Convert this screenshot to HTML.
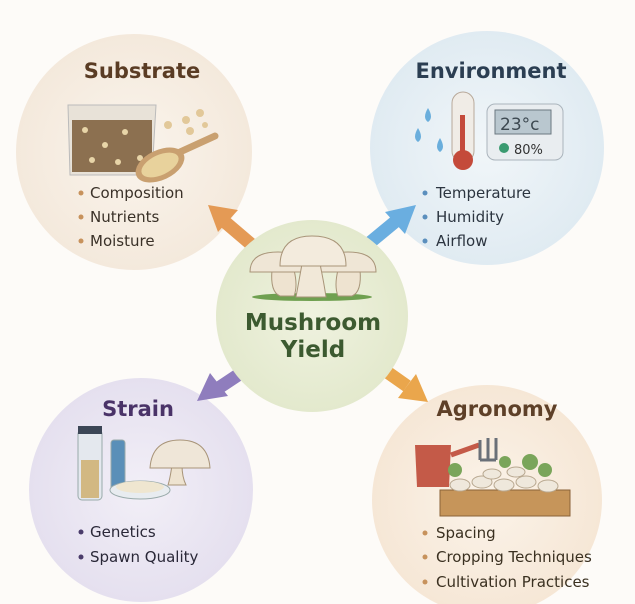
<!DOCTYPE html>
<html><head><meta charset="utf-8"><style>
html,body{margin:0;padding:0;background:#fdfbf8;}
svg{display:block;}
text{font-family:"DejaVu Sans","Liberation Sans",sans-serif;}
</style></head><body>
<svg width="635" height="604" viewBox="0 0 635 604" xmlns="http://www.w3.org/2000/svg">
<defs>
<radialGradient id="gs" cx="50%" cy="50%" r="50%"><stop offset="0" stop-color="#faf4ec"/><stop offset="1" stop-color="#f4e9dc"/></radialGradient>
<radialGradient id="ge" cx="50%" cy="50%" r="50%"><stop offset="0" stop-color="#f1f6f9"/><stop offset="1" stop-color="#e0ebf2"/></radialGradient>
<radialGradient id="gc" cx="50%" cy="50%" r="50%"><stop offset="0" stop-color="#eff2df"/><stop offset="1" stop-color="#e3e9cd"/></radialGradient>
<radialGradient id="gst" cx="50%" cy="50%" r="50%"><stop offset="0" stop-color="#f2eff7"/><stop offset="1" stop-color="#e5e0ef"/></radialGradient>
<radialGradient id="ga" cx="50%" cy="50%" r="50%"><stop offset="0" stop-color="#fbf3e9"/><stop offset="1" stop-color="#f6e7d6"/></radialGradient>
</defs>
<rect width="635" height="604" fill="#fdfbf8"/>
<circle cx="134" cy="152" r="118" fill="url(#gs)"/>
<circle cx="487" cy="148" r="117" fill="url(#ge)"/>
<circle cx="141" cy="490" r="112" fill="url(#gst)"/>
<circle cx="487" cy="500" r="115" fill="url(#ga)"/>

<g stroke-linecap="butt">
<line x1="252" y1="245" x2="225" y2="222" stroke="#e49a55" stroke-width="13"/>
<polygon points="208,205 238,210 218,232" fill="#e49a55"/>
<line x1="367" y1="245" x2="396" y2="221" stroke="#6aaee0" stroke-width="13"/>
<polygon points="416,205 405,234 385,212" fill="#6aaee0"/>
<line x1="253" y1="365" x2="220" y2="387" stroke="#8f7dbd" stroke-width="13"/>
<polygon points="197,401 210,373 228,396" fill="#8f7dbd"/>
<line x1="373" y1="362" x2="407" y2="386" stroke="#eaa64c" stroke-width="13"/>
<polygon points="428,402 398,398 416,374" fill="#eaa64c"/>
</g>

<circle cx="312" cy="316" r="96" fill="url(#gc)"/>

<g>
<ellipse cx="312" cy="297" rx="60" ry="4" fill="#6fa050"/>
<path d="M272 270 q-2 22 8 26 h14 q4 -10 0 -26z" fill="#eee3d0" stroke="#a89478"/>
<path d="M250 272 q0 -20 28 -20 q26 0 26 20 z" fill="#efe6d6" stroke="#a89478"/>
<path d="M338 270 q-4 16 0 26 h14 q10 -4 8 -26z" fill="#eee3d0" stroke="#a89478"/>
<path d="M320 272 q0 -20 28 -20 q28 0 28 20 z" fill="#efe6d6" stroke="#a89478"/>
<path d="M302 264 q-4 22 -6 33 h30 q-2 -14 -6 -33z" fill="#f1e8d8" stroke="#a89478"/>
<path d="M280 266 q0 -30 32 -30 q34 0 34 30 z" fill="#f3ebdd" stroke="#a89478"/>
</g>
<text x="313" y="330" text-anchor="middle" font-size="23" font-weight="bold" fill="#3c5a30">Mushroom</text>
<text x="313" y="357" text-anchor="middle" font-size="23" font-weight="bold" fill="#3c5a30">Yield</text>

<text x="142" y="78" text-anchor="middle" font-size="21" font-weight="bold" fill="#5a3c24">Substrate</text>
<path d="M68 105 h88 l-4 70 h-82 z" fill="#e8e2d8" stroke="#bbb" />
<rect x="72" y="120" width="80" height="52" fill="#8c7050"/>
<g fill="#e8d5a8"><circle cx="85" cy="130" r="3"/><circle cx="105" cy="145" r="3"/><circle cx="125" cy="132" r="3"/><circle cx="140" cy="158" r="3"/><circle cx="92" cy="160" r="3"/><circle cx="118" cy="162" r="3"/></g>
<ellipse cx="160" cy="165" rx="26" ry="15" fill="#c9a070" transform="rotate(-25 160 165)"/>
<ellipse cx="160" cy="165" rx="20" ry="10" fill="#e8d29c" transform="rotate(-25 160 165)"/>
<line x1="180" y1="152" x2="215" y2="136" stroke="#c9a070" stroke-width="7" stroke-linecap="round"/>
<g fill="#e2c899"><circle cx="168" cy="125" r="4"/><circle cx="186" cy="120" r="4"/><circle cx="200" cy="113" r="4"/><circle cx="190" cy="131" r="4"/><circle cx="205" cy="125" r="3"/></g>
<g font-size="15" fill="#3a3128">
<text x="90" y="198">Composition</text><text x="90" y="222">Nutrients</text><text x="90" y="246">Moisture</text></g>
<g fill="#c7925c"><circle cx="81" cy="193" r="2.5"/><circle cx="81" cy="217" r="2.5"/><circle cx="81" cy="241" r="2.5"/></g>

<text x="491" y="78" text-anchor="middle" font-size="21" font-weight="bold" fill="#2b3e52">Environment</text>
<g fill="#6aaedc"><path d="M428 108 q-6 10 0 14 q6 -4 0 -14z"/><path d="M418 128 q-6 10 0 14 q6 -4 0 -14z"/><path d="M440 138 q-6 10 0 14 q6 -4 0 -14z"/></g>
<rect x="452" y="92" width="22" height="70" rx="11" fill="#f0ece6" stroke="#b8a99a"/>
<rect x="460" y="115" width="5" height="40" fill="#c44a3a"/>
<circle cx="463" cy="160" r="10" fill="#c44a3a"/>
<rect x="487" y="104" width="76" height="56" rx="8" fill="#e9edf0" stroke="#aab4bc"/>
<rect x="495" y="110" width="56" height="24" fill="#b9c7cf" stroke="#6a7880"/>
<text x="500" y="130" font-size="17" fill="#3c4850">23°c</text>
<circle cx="504" cy="148" r="5" fill="#3a9a70"/>
<text x="514" y="154" font-size="13" fill="#333">80%</text>
<g font-size="15" fill="#2c3540">
<text x="436" y="198">Temperature</text><text x="436" y="222">Humidity</text><text x="436" y="246">Airflow</text></g>
<g fill="#5b8fbd"><circle cx="425" cy="193" r="2.5"/><circle cx="425" cy="217" r="2.5"/><circle cx="425" cy="241" r="2.5"/></g>

<text x="138" y="416" text-anchor="middle" font-size="21" font-weight="bold" fill="#4a3368">Strain</text>
<rect x="78" y="430" width="24" height="70" rx="4" fill="#e4e8ee" stroke="#9aa"/>
<rect x="78" y="426" width="24" height="8" fill="#3c4656"/>
<rect x="81" y="460" width="18" height="38" fill="#d2b882"/>
<rect x="111" y="440" width="14" height="50" rx="3" fill="#5a8fb8" stroke="#9aa"/>
<ellipse cx="140" cy="490" rx="30" ry="9" fill="#e8ecf0" stroke="#9aa"/>
<ellipse cx="140" cy="487" rx="24" ry="6" fill="#efe6d0"/>
<path d="M172 465 q-2 14 -4 20 h18 q-4 -8 -4 -20z" fill="#eee3d0" stroke="#a89478"/>
<path d="M150 468 q2 -28 30 -28 q28 0 30 28 z" fill="#efe6d8" stroke="#a89478"/>
<g font-size="15" fill="#2a2838">
<text x="90" y="537">Genetics</text><text x="90" y="562">Spawn Quality</text></g>
<g fill="#4a3b6a"><circle cx="81" cy="532" r="2.5"/><circle cx="81" cy="557" r="2.5"/></g>

<text x="497" y="416" text-anchor="middle" font-size="21" font-weight="bold" fill="#5e4028">Agronomy</text>
<path d="M415 445 h36 l-2 42 h-32z" fill="#c45a48"/>
<path d="M451 455 l28 -10" stroke="#c45a48" stroke-width="5"/>
<path d="M480 440 v20 m8 -22 v22 m8 -22 v22 m-16 0 h16" stroke="#6a7078" stroke-width="3" fill="none"/>
<g fill="#7aa55a"><circle cx="455" cy="470" r="7"/><circle cx="530" cy="462" r="8"/><circle cx="545" cy="470" r="7"/><circle cx="505" cy="462" r="6"/></g>
<rect x="440" y="490" width="130" height="26" fill="#c6955a" stroke="#8a6238"/>
<g fill="#efe8dc" stroke="#b8a890"><ellipse cx="460" cy="485" rx="10" ry="6"/><ellipse cx="482" cy="482" rx="10" ry="6"/><ellipse cx="504" cy="485" rx="10" ry="6"/><ellipse cx="526" cy="482" rx="10" ry="6"/><ellipse cx="548" cy="486" rx="10" ry="6"/><ellipse cx="492" cy="474" rx="9" ry="5"/><ellipse cx="516" cy="472" rx="9" ry="5"/></g>
<g font-size="15" fill="#3a3020">
<text x="436" y="538">Spacing</text><text x="436" y="562">Cropping Techniques</text><text x="436" y="587">Cultivation Practices</text></g>
<g fill="#c7925c"><circle cx="425" cy="533" r="2.5"/><circle cx="425" cy="557" r="2.5"/><circle cx="425" cy="582" r="2.5"/></g>
</svg>
</body></html>
